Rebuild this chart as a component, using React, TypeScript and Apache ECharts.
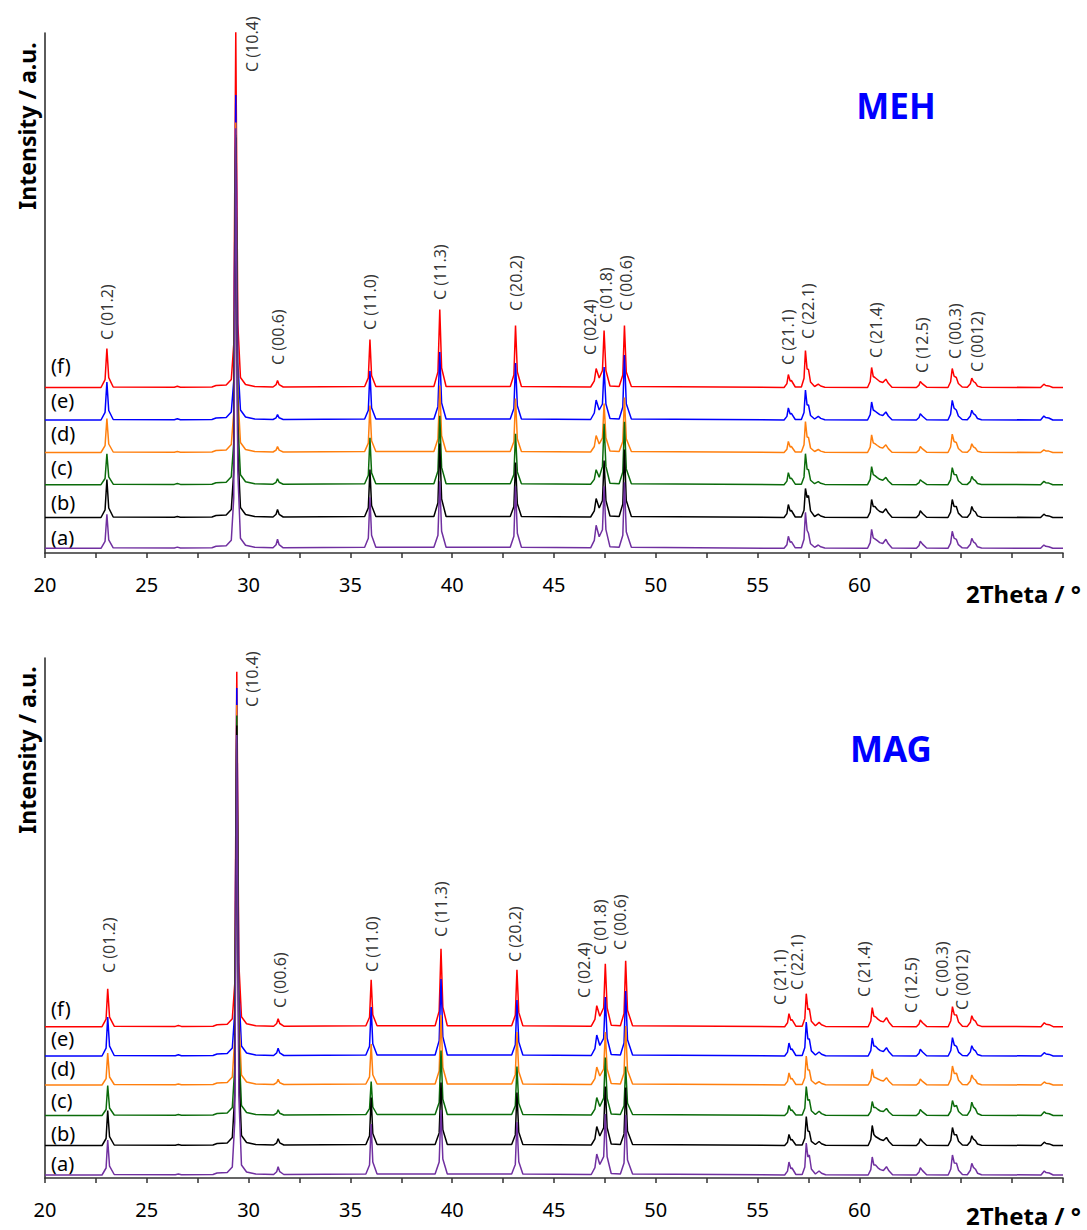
import React, { useEffect, useRef } from "react";
import * as echarts from "echarts";

// ---------- data ----------
const SAMPLE_NAMES = ["(a)", "(b)", "(c)", "(d)", "(e)", "(f)"];
const SAMPLE_COLORS = ["#7030A0", "#000000", "#0B6B0B", "#FF7F0E", "#0000FF", "#FF0000"];

// vertical stacking offsets (a.u.) of traces (a)..(f)
const MEH_OFFSETS = [4.7, 35.5, 68.3, 100.5, 133, 165.5];
const MAG_OFFSETS = [3, 32.5, 62.5, 93, 122, 151.3];

const PEAK_NAMES = ["C (01.2)", "C (10.4)", "C (00.6)", "C (11.0)", "C (11.3)", "C (20.2)", "C (02.4)", "C (01.8)", "C (00.6)", "C (21.1)", "C (22.1)", "C (21.4)", "C (12.5)", "C (00.3)", "C (0012)"];
const MEH_PEAK_THETA = [23.05, 30.17, 31.44, 35.96, 39.4, 43.13, 46.77, 47.55, 48.54, 56.49, 57.48, 60.82, 63.08, 64.7, 65.78];
const MEH_PEAK_LABEL_Y = [213, 481, 188, 223, 253, 242, 198, 230, 242, 188, 214, 195, 180, 194, 181];
const MAG_PEAK_THETA = [23.14, 30.17, 31.54, 36.06, 39.45, 43.08, 46.47, 47.26, 48.24, 56.1, 56.94, 60.23, 62.54, 64.06, 65.04];
const MAG_PEAK_LABEL_Y = [205, 471, 170, 206, 241, 216, 180, 223, 228, 173, 188, 181, 165, 181, 168];

const X_TICK_LABELS = [20, 25, 30, 35, 40, 45, 50, 55, 60];

const MEH_TWO_THETA = [
  20.0,
  22.75, 22.95, 23.04, 23.13, 23.35,
  26.35, 26.5, 26.65,
  28.2, 28.4, 28.9, 29.15, 29.27, 29.37, 29.47, 29.6, 29.85, 30.3,
  31.2, 31.35, 31.42, 31.5, 31.7,
  35.7, 35.88, 35.96, 36.04, 36.25,
  39.1, 39.3, 39.39, 39.48, 39.7,
  42.85, 43.03, 43.11, 43.2, 43.4,
  46.8, 46.98, 47.07, 47.22, 47.38, 47.46, 47.55, 47.75,
  48.2, 48.38, 48.46, 48.55, 48.8,
  56.3, 56.44, 56.51, 56.6, 56.66, 56.85,
  57.15, 57.28, 57.35, 57.43, 57.5, 57.6, 57.8,
  57.98, 58.1, 58.3,
  60.4, 60.53, 60.6, 60.68, 60.76, 60.88, 61.0, 61.15, 61.3, 61.42, 61.6,
  62.8, 62.93, 62.99, 63.1, 63.3,
  64.35, 64.48, 64.56, 64.65, 64.76, 64.86, 65.05,
  65.3, 65.45, 65.52, 65.6, 65.7, 65.8, 66.0,
  68.9, 69.06, 69.15, 69.3, 69.5,
  70.0,
];

const MEH_A = [
  0,
  0, 7, 34, 8.5, 0.5,
  0.3, 1.2, 0.3,
  0.5, 2, 2.5, 8, 50, 420, 76, 10, 3, 1,
  0.5, 3.6, 9, 3.6, 0.5,
  1, 10, 51, 13, 1,
  1, 13, 67, 17, 1,
  1, 12, 62, 15, 1,
  0.5, 8, 23, 11.5, 18.6, 62, 18.6, 1.5,
  1, 13, 66, 16.5, 1,
  0, 3.6, 12, 6, 6.6, 0.5,
  0.5, 9, 36, 18, 15, 4.5, 1,
  3.3, 1.5, 0.3,
  0, 5.7, 19, 10.5, 9.5, 7.6, 5.7, 4.8, 9, 4.5, 0.3,
  0, 2.8, 7, 4.2, 0.3,
  0, 5.1, 17, 10.2, 9, 3.6, 0.5,
  0.3, 4, 10, 6.5, 5, 1.5, 0.3,
  0, 3.3, 2, 1.6, 0,
  0,
];
const MEH_B = [
  0,
  0, 7.6, 38, 9.5, 0.5,
  0.3, 1, 0.3,
  0.5, 2, 2.5, 8, 46, 380, 68, 10, 3, 1,
  0.5, 3.2, 8, 3.2, 0.5,
  1, 9.6, 48, 12, 1,
  1, 14.8, 74, 18.5, 1,
  1, 11, 55, 13.8, 1,
  0.5, 6.7, 19, 9.5, 17, 57, 17, 1.5,
  1, 13.6, 68, 17, 1,
  0, 3.9, 13, 6.5, 7, 0.5,
  0.5, 7.3, 29, 20, 22, 6.6, 1,
  3.3, 1.5, 0.3,
  0, 5.4, 18, 11, 11, 8, 6, 5, 8.7, 4.4, 0.3,
  0, 2.7, 6.7, 4, 0.3,
  0, 5.4, 18, 11, 11, 4.4, 0.5,
  0.3, 4.4, 11, 7, 5.5, 1.6, 0.3,
  0, 3.3, 2, 1.6, 0,
  0,
];
const MEH_C = [
  0,
  0, 6.2, 31, 7.8, 0.5,
  0.3, 1.2, 0.3,
  0.5, 2, 2.5, 8, 42, 350, 63, 10, 3, 1,
  0.5, 2.4, 6, 2.4, 0.5,
  1, 9.4, 47, 11.8, 1,
  1, 13.8, 69, 17.3, 1,
  1, 10.2, 51, 12.8, 1,
  0.5, 5.3, 15, 7.5, 18.3, 61, 18.3, 1.5,
  1, 12.6, 63, 15.8, 1,
  0, 3.6, 12, 6, 6.6, 0.5,
  0.5, 7.8, 31, 15.5, 15, 4.5, 1,
  3, 1.4, 0.3,
  0, 5.4, 18, 10, 9, 7, 5.4, 4.5, 7.3, 3.7, 0.3,
  0, 2, 5, 3, 0.3,
  0, 5.1, 17, 10.2, 10, 4, 0.5,
  0.3, 3.3, 8.3, 5.4, 4, 1.2, 0.3,
  0, 3.3, 2, 1.6, 0,
  0,
];
const MEH_D = [
  0,
  0, 6.8, 34, 8.5, 0.5,
  0.3, 1, 0.3,
  0.5, 2, 2.5, 8, 40, 330, 59, 10, 3, 1,
  0.5, 2.4, 6, 2.4, 0.5,
  1, 9.4, 47, 11.8, 1,
  1, 13.4, 67, 16.8, 1,
  1, 10.8, 54, 13.5, 1,
  0.5, 6, 17, 8.5, 14.7, 49, 14.7, 1.5,
  1, 11, 55, 13.8, 1,
  0, 3.3, 11, 5.5, 6, 0.5,
  0.5, 7.8, 31, 15.5, 15, 4.5, 1,
  3, 1.4, 0.3,
  0, 5.3, 17.7, 9.7, 8.8, 7, 5.3, 4.4, 7.7, 3.9, 0.3,
  0, 2.4, 6, 3.6, 0.3,
  0, 5.5, 18.3, 11, 10, 4, 0.5,
  0.3, 3.5, 8.7, 5.7, 4.3, 1.3, 0.3,
  0, 2.7, 1.6, 1.4, 0,
  0,
];
const MEH_E = [
  0,
  0, 7.6, 38, 9.5, 0.5,
  0.3, 1.2, 0.3,
  0.5, 2, 2.5, 8, 39, 325, 58, 10, 3, 1,
  0.5, 2.2, 5.5, 2.2, 0.5,
  1, 9.8, 49, 12.3, 1,
  1, 13.6, 68, 17, 1,
  1, 11.4, 57, 14.3, 1,
  0.5, 7, 20, 10, 16, 53, 16, 1.5,
  1, 13, 65, 16.3, 1,
  0, 3.6, 12, 6, 6.6, 0.5,
  0.5, 7.5, 30, 15, 15, 4.5, 1,
  3.7, 1.6, 0.3,
  0, 5.4, 18, 10, 9, 7.2, 5.4, 4.5, 8, 4, 0.3,
  0, 2.5, 6.3, 3.8, 0.3,
  0, 5.9, 19.7, 11.8, 10, 4, 0.5,
  0.3, 3.9, 9.7, 6.3, 4.8, 1.5, 0.3,
  0, 4, 2.4, 2, 0,
  0,
];
const MEH_F = [
  0,
  0, 7.8, 39, 9.8, 0.5,
  0.3, 1.2, 0.3,
  0.5, 2, 2.5, 8, 43, 356, 64, 10, 3, 1,
  0.5, 2.8, 7, 2.8, 0.5,
  1, 9.6, 48, 12, 1,
  1, 15.6, 78, 19.5, 1,
  1, 12.4, 62, 15.5, 1,
  0.5, 6.7, 19, 9.5, 17, 57, 17, 1.5,
  1, 12.4, 62, 15.5, 1,
  0, 3.9, 13, 6.5, 7, 0.5,
  0.5, 9.3, 37, 18.5, 18, 5.4, 1,
  3.3, 1.5, 0.3,
  0, 6, 20, 11, 10, 8, 6, 5, 8.3, 4.2, 0.3,
  0, 2.4, 6, 3.6, 0.3,
  0, 5.7, 19, 11.4, 10, 4, 0.5,
  0.3, 3.7, 9.3, 6, 4.6, 1.4, 0.3,
  0, 3.3, 2, 1.6, 0,
  0,
];

const MAG_TWO_THETA = [
  20.0,
  22.8, 23.0, 23.08, 23.17, 23.4,
  26.4, 26.55, 26.7,
  28.25, 28.45, 28.95, 29.2, 29.32, 29.42, 29.52, 29.65, 29.9, 30.35,
  31.23, 31.38, 31.45, 31.53, 31.73,
  35.76, 35.94, 36.02, 36.1, 36.31,
  39.16, 39.36, 39.45, 39.54, 39.76,
  42.92, 43.1, 43.18, 43.27, 43.47,
  46.83, 47.01, 47.1, 47.25, 47.44, 47.52, 47.61, 47.81,
  48.26, 48.44, 48.52, 48.61, 48.86,
  56.33, 56.47, 56.54, 56.63, 56.69, 56.88,
  57.19, 57.32, 57.39, 57.47, 57.54, 57.64, 57.84,
  58.02, 58.14, 58.34,
  60.43, 60.56, 60.63, 60.71, 60.79, 60.91, 61.03, 61.18, 61.33, 61.45, 61.63,
  62.8, 62.93, 62.99, 63.1, 63.3,
  64.36, 64.49, 64.57, 64.66, 64.77, 64.87, 65.06,
  65.3, 65.45, 65.52, 65.6, 65.7, 65.8, 66.0,
  68.92, 69.08, 69.17, 69.32, 69.52,
  70.0,
];

const MAG_A = [
  0,
  0, 7, 35, 8.8, 0.5,
  0.3, 1, 0.3,
  0.5, 2, 2.5, 8, 53, 440, 79, 10, 3, 1,
  0.5, 3.3, 8.3, 3.3, 0.5,
  1, 10, 51, 13, 1,
  1, 13, 65, 16, 1,
  1, 10.6, 53, 13.3, 1,
  0.5, 7.4, 21, 10.5, 18.3, 61, 18.3, 1.5,
  1, 12, 60, 15, 1,
  0, 3.9, 13, 6.5, 7, 0.5,
  0.5, 8, 32, 18, 20, 6, 1,
  4, 1.8, 0.3,
  0, 5.4, 18, 10, 10, 7.2, 5.4, 4.5, 8.3, 4.2, 0.3,
  0, 2.9, 7.3, 4.4, 0.3,
  0, 6, 20, 12, 11.7, 4.7, 0.5,
  0.3, 4.7, 11.7, 7.6, 5.8, 1.8, 0.3,
  0, 4, 2.4, 2, 0,
  0,
];
const MAG_B = [
  0,
  0, 7, 35, 8.8, 0.5,
  0.3, 1, 0.3,
  0.5, 2, 2.5, 8, 50, 420, 76, 10, 3, 1,
  0.5, 2.7, 6.7, 2.7, 0.5,
  1, 9.6, 48, 12, 1,
  1, 12.6, 63, 15.8, 1,
  1, 10.6, 53, 13.3, 1,
  0.5, 6.7, 19, 9.5, 17.7, 59, 17.7, 1.5,
  1, 11.6, 58, 14.5, 1,
  0, 3.3, 11, 5.5, 6, 0.5,
  0.5, 7.3, 29, 14.5, 14, 4.2, 1,
  4, 1.8, 0.3,
  0, 6, 20, 11, 9, 7.5, 6, 5, 8, 4, 0.3,
  0, 2.7, 6.7, 4, 0.3,
  0, 5.4, 18, 10.8, 10.7, 4.3, 0.5,
  0.3, 3.9, 9.7, 6.3, 4.8, 1.5, 0.3,
  0, 3.3, 2, 1.6, 0,
  0,
];
const MAG_C = [
  0,
  0, 6, 30, 7.5, 0.5,
  0.3, 1, 0.3,
  0.5, 2, 2.5, 8, 48, 400, 72, 10, 3, 1,
  0.5, 2.3, 5.7, 2.3, 0.5,
  1, 6.8, 34, 8.5, 1,
  1, 13, 65, 16.3, 1,
  1, 9.8, 49, 12.3, 1,
  0.5, 6.3, 18, 9, 17.4, 58, 17.4, 1.5,
  1, 9.8, 49, 12.3, 1,
  0, 3, 10, 5, 5.5, 0.5,
  0.5, 7.3, 29, 15, 16, 4.8, 1,
  4.3, 1.9, 0.3,
  0, 4.2, 14, 8, 8, 6, 4.5, 4, 7, 3.5, 0.3,
  0, 2.4, 6, 3.6, 0.3,
  0, 4.5, 15, 9, 10, 4, 0.5,
  0.3, 5.3, 13.3, 8.6, 6.6, 2, 0.3,
  0, 3.7, 2.2, 1.8, 0,
  0,
];
const MAG_D = [
  0,
  0, 6.4, 32, 8, 0.5,
  0.3, 1, 0.3,
  0.5, 2, 2.5, 8, 46, 380, 68, 10, 3, 1,
  0.5, 2.3, 5.7, 2.3, 0.5,
  1, 8.2, 41, 10.3, 1,
  1, 14, 70, 17.5, 1,
  1, 10.6, 53, 13.3, 1,
  0.5, 6.3, 18, 9, 16, 53, 16, 1.5,
  1, 11.8, 59, 14.8, 1,
  0, 3.6, 12, 6, 6.6, 0.5,
  0.5, 7.3, 29, 15, 15, 4.5, 1,
  3.3, 1.5, 0.3,
  0, 4.8, 16, 8, 7.3, 6, 4.8, 4, 7.3, 3.7, 0.3,
  0, 2.4, 6, 3.6, 0.3,
  0, 5.7, 19, 11.4, 11.7, 4.7, 0.5,
  0.3, 4, 10, 6.5, 5, 1.5, 0.3,
  0, 3, 1.8, 1.5, 0,
  0,
];
const MAG_E = [
  0,
  0, 7.8, 39, 9.8, 0.5,
  0.3, 1.2, 0.3,
  0.5, 2, 2.5, 8, 44, 368, 66, 10, 3, 1,
  0.5, 3.1, 7.7, 3.1, 0.5,
  1, 9.8, 49, 12.3, 1,
  1, 15.4, 77, 19.3, 1,
  1, 11.2, 56, 14, 1,
  0.5, 7.4, 21, 10.5, 17.7, 59, 17.7, 1.5,
  1, 13, 65, 16.3, 1,
  0, 3.9, 13, 6.5, 7, 0.5,
  0.5, 8.5, 34, 17, 17, 5.1, 1,
  4, 1.8, 0.3,
  0, 5.4, 18, 10, 9.7, 7.2, 5.4, 4.5, 8.3, 4.2, 0.3,
  0, 2.7, 6.7, 4, 0.3,
  0, 5.5, 18.3, 11, 9.7, 3.9, 0.5,
  0.3, 4.1, 10.3, 6.7, 5.2, 1.5, 0.3,
  0, 3.3, 2, 1.6, 0,
  0,
];
const MAG_F = [
  0,
  0, 7.6, 38, 9.5, 0.5,
  0.3, 1.2, 0.3,
  0.5, 2, 2.5, 8, 43, 355, 64, 10, 3, 1,
  0.5, 3.2, 8, 3.2, 0.5,
  1, 9.4, 47, 11.8, 1,
  1, 15.6, 78, 19.5, 1,
  1, 11.4, 57, 14.3, 1,
  0.5, 7.4, 21, 10.5, 18.9, 63, 18.9, 1.5,
  1, 13.2, 66, 16.5, 1,
  0, 3.9, 13, 6.5, 7, 0.5,
  0.5, 8.3, 33, 17, 18, 5.4, 1,
  4.3, 1.9, 0.3,
  0, 5.7, 19, 10.5, 10, 7.6, 5.7, 4.8, 9, 4.5, 0.3,
  0, 2.7, 6.7, 4, 0.3,
  0, 6, 20, 12, 11.7, 4.7, 0.5,
  0.3, 4.4, 11, 7, 5.5, 1.7, 0.3,
  0, 4, 2.4, 2, 0,
  0,
];

const MEH_TRACES = [MEH_A, MEH_B, MEH_C, MEH_D, MEH_E, MEH_F];
const MAG_TRACES = [MAG_A, MAG_B, MAG_C, MAG_D, MAG_E, MAG_F];

// ---------- layout ----------
const FONT = "'Noto Sans', sans-serif";
const W = 1087;
const H = 1230;
const GRID_LEFT = 45;
const GRID_RIGHT = 24;
const GRID_H = 520;
const TOP1 = 33;
const TOP2 = 658;

function traceSeries(gridIndex: number, theta: number[], traces: number[][], offsets: number[]) {
  const out: any[] = [];
  for (let i = traces.length - 1; i >= 0; i--) {
    const ys = traces[i];
    out.push({
      type: "line",
      name: SAMPLE_NAMES[i],
      xAxisIndex: gridIndex,
      yAxisIndex: gridIndex,
      data: theta.map((t, j) => [t, ys[j] + offsets[i]]),
      showSymbol: false,
      symbol: "none",
      lineStyle: { color: SAMPLE_COLORS[i], width: 1.5 },
      itemStyle: { color: SAMPLE_COLORS[i] },
      z: 2,
    });
  }
  return out;
}

function labelSeries(gridIndex: number, theta: number[], ys: number[]) {
  return {
    type: "scatter",
    xAxisIndex: gridIndex,
    yAxisIndex: gridIndex,
    symbolSize: 0,
    silent: true,
    z: 5,
    data: theta.map((t, i) => [t, ys[i], PEAK_NAMES[i]]),
    label: {
      show: true,
      position: "inside",
      rotate: 90,
      align: "left",
      verticalAlign: "middle",
      formatter: (p: any) => p.data[2],
      fontFamily: FONT,
      fontSize: 16,
      color: "#000",
    },
  };
}

function xAxis(gridIndex: number) {
  return {
    type: "value",
    gridIndex,
    min: 20,
    max: 70,
    interval: 2.5,
    axisLine: { show: true, onZero: false, lineStyle: { color: "#333", width: 1.6 } },
    axisTick: { show: true, inside: false, length: 5, lineStyle: { color: "#333", width: 1.5 } },
    axisLabel: {
      show: true,
      margin: 21,
      fontFamily: FONT,
      fontSize: 20,
      color: "#000",
      formatter: (v: number) => (X_TICK_LABELS.indexOf(v) >= 0 ? String(v) : ""),
    },
    splitLine: { show: false },
  };
}

function yAxis(gridIndex: number) {
  return {
    type: "value",
    gridIndex,
    min: 0,
    max: 520,
    axisLine: { show: true, onZero: false, lineStyle: { color: "#333", width: 1.6 } },
    axisTick: { show: false },
    axisLabel: { show: false },
    splitLine: { show: false },
  };
}

function sampleTags(centersY: number[]) {
  return centersY.map((y, i) => ({
    type: "text",
    x: 51,
    y,
    style: { text: SAMPLE_NAMES[i], fontFamily: FONT, fontSize: 20, fill: "#000", align: "left", verticalAlign: "middle" },
  }));
}

export default function App() {
  const ref = useRef<HTMLDivElement>(null);

  useEffect(() => {
    document.body.style.margin = "0";
    if (!ref.current) return;
    const chart = echarts.init(ref.current, undefined, { renderer: "svg" });
    const option: any = {
      animation: false,
      backgroundColor: "#fff",
      grid: [
        { left: GRID_LEFT, right: GRID_RIGHT, top: TOP1, height: GRID_H },
        { left: GRID_LEFT, right: GRID_RIGHT, top: TOP2, height: GRID_H },
      ],
      xAxis: [xAxis(0), xAxis(1)],
      yAxis: [yAxis(0), yAxis(1)],
      series: [
        ...traceSeries(0, MEH_TWO_THETA, MEH_TRACES, MEH_OFFSETS),
        ...traceSeries(1, MAG_TWO_THETA, MAG_TRACES, MAG_OFFSETS),
        labelSeries(0, MEH_PEAK_THETA, MEH_PEAK_LABEL_Y),
        labelSeries(1, MAG_PEAK_THETA, MAG_PEAK_LABEL_Y),
      ],
      graphic: [
        {
          type: "text",
          x: 27,
          y: 126,
          rotation: Math.PI / 2,
          style: { text: "Intensity / a.u.", fontFamily: FONT, fontSize: 23, fontWeight: "bold", fill: "#000", align: "center", verticalAlign: "middle" },
        },
        {
          type: "text",
          x: 27,
          y: 750,
          rotation: Math.PI / 2,
          style: { text: "Intensity / a.u.", fontFamily: FONT, fontSize: 23, fontWeight: "bold", fill: "#000", align: "center", verticalAlign: "middle" },
        },
        {
          type: "text",
          x: 966,
          y: 593,
          style: { text: "2Theta / °", fontFamily: FONT, fontSize: 24, fontWeight: "bold", fill: "#000", align: "left", verticalAlign: "middle" },
        },
        {
          type: "text",
          x: 966,
          y: 1215,
          style: { text: "2Theta / °", fontFamily: FONT, fontSize: 24, fontWeight: "bold", fill: "#000", align: "left", verticalAlign: "middle" },
        },
        {
          type: "text",
          x: 896,
          y: 105,
          style: { text: "MEH", fontFamily: FONT, fontSize: 35, fontWeight: "bold", fill: "#0000FF", align: "center", verticalAlign: "middle" },
        },
        {
          type: "text",
          x: 891,
          y: 748,
          style: { text: "MAG", fontFamily: FONT, fontSize: 35, fontWeight: "bold", fill: "#0000FF", align: "center", verticalAlign: "middle" },
        },
        ...sampleTags([537, 502, 467, 433, 400, 365]),
        ...sampleTags([1163, 1133, 1100, 1068, 1038, 1008]),
      ],
    };
    chart.setOption(option);
    return () => chart.dispose();
  }, []);

  return <div ref={ref} style={{ width: W, height: H }} />;
}
